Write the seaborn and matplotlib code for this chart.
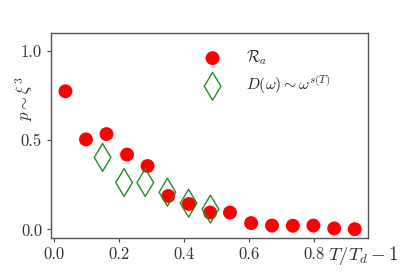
import matplotlib
matplotlib.use("Agg")
import matplotlib.pyplot as plt
import seaborn as sns
import pandas as pd

# data
ra_x = [0.036, 0.099, 0.162, 0.225, 0.288, 0.352, 0.415, 0.480, 0.541, 0.606, 0.670, 0.734, 0.797, 0.861, 0.924]
ra_y = [0.775, 0.505, 0.535, 0.420, 0.356, 0.188, 0.143, 0.095, 0.095, 0.036, 0.022, 0.021, 0.022, 0.006, 0.002]
dw_x = [0.150, 0.216, 0.281, 0.349, 0.414, 0.481]
dw_y = [0.404, 0.263, 0.263, 0.209, 0.147, 0.114]

x_ticks = [0.0, 0.2, 0.4, 0.6, 0.8]
y_ticks = [0.0, 0.5, 1.0]

sns.set_style("ticks")
plt.rcParams['font.family'] = ['cmr10', 'DejaVu Serif']
plt.rcParams['mathtext.fontset'] = 'cm'
plt.rcParams['axes.formatter.use_mathtext'] = True

df_ra = pd.DataFrame({'x': ra_x, 'y': ra_y})
df_dw = pd.DataFrame({'x': dw_x, 'y': dw_y})

fig, ax = plt.subplots(figsize=(4.09, 2.73), dpi=100)
fig.subplots_adjust(left=0.125, right=0.9, top=0.88, bottom=0.128)

sns.scatterplot(data=df_ra, x='x', y='y', ax=ax, color='red', s=100,
                edgecolor='none', label=r'$\mathcal{R}_a$')
sns.scatterplot(data=df_dw, x='x', y='y', ax=ax, marker='d', s=200,
                facecolor='none', edgecolor='forestgreen', linewidth=1.0,
                label=r'$D(\omega)\sim\omega^{s(T)}$')

ax.set_xlim(-0.008, 0.965)
ax.set_ylim(-0.048, 1.103)
ax.set_xticks(x_ticks)
ax.set_yticks(y_ticks)
ax.set_xticklabels([f"{v:.1f}" for v in x_ticks])
ax.set_yticklabels([f"{v:.1f}" for v in y_ticks])
ax.tick_params(labelsize=12, colors='#444444', labelcolor='#333333', length=3)
for sp in ax.spines.values():
    sp.set_color('#555555')
    sp.set_linewidth(1.0)

ax.set_xlabel(r'$T/T_d-1$', fontsize=13.5, color='#333333')
ax.xaxis.set_label_coords(0.985, -0.085)
ax.xaxis.label.set_verticalalignment('center')
ax.set_ylabel(r'$p\sim\xi^3$', fontsize=12, color='#333333')
ax.yaxis.set_label_coords(-0.085, 0.68)
ax.yaxis.label.set_verticalalignment('center')

leg = ax.legend(loc='upper left', frameon=False, fontsize=11.3, handletextpad=1.15,
                labelspacing=0.45, borderaxespad=0.0, bbox_to_anchor=(0.44, 0.955))

fig.savefig('out.png', dpi=100)
